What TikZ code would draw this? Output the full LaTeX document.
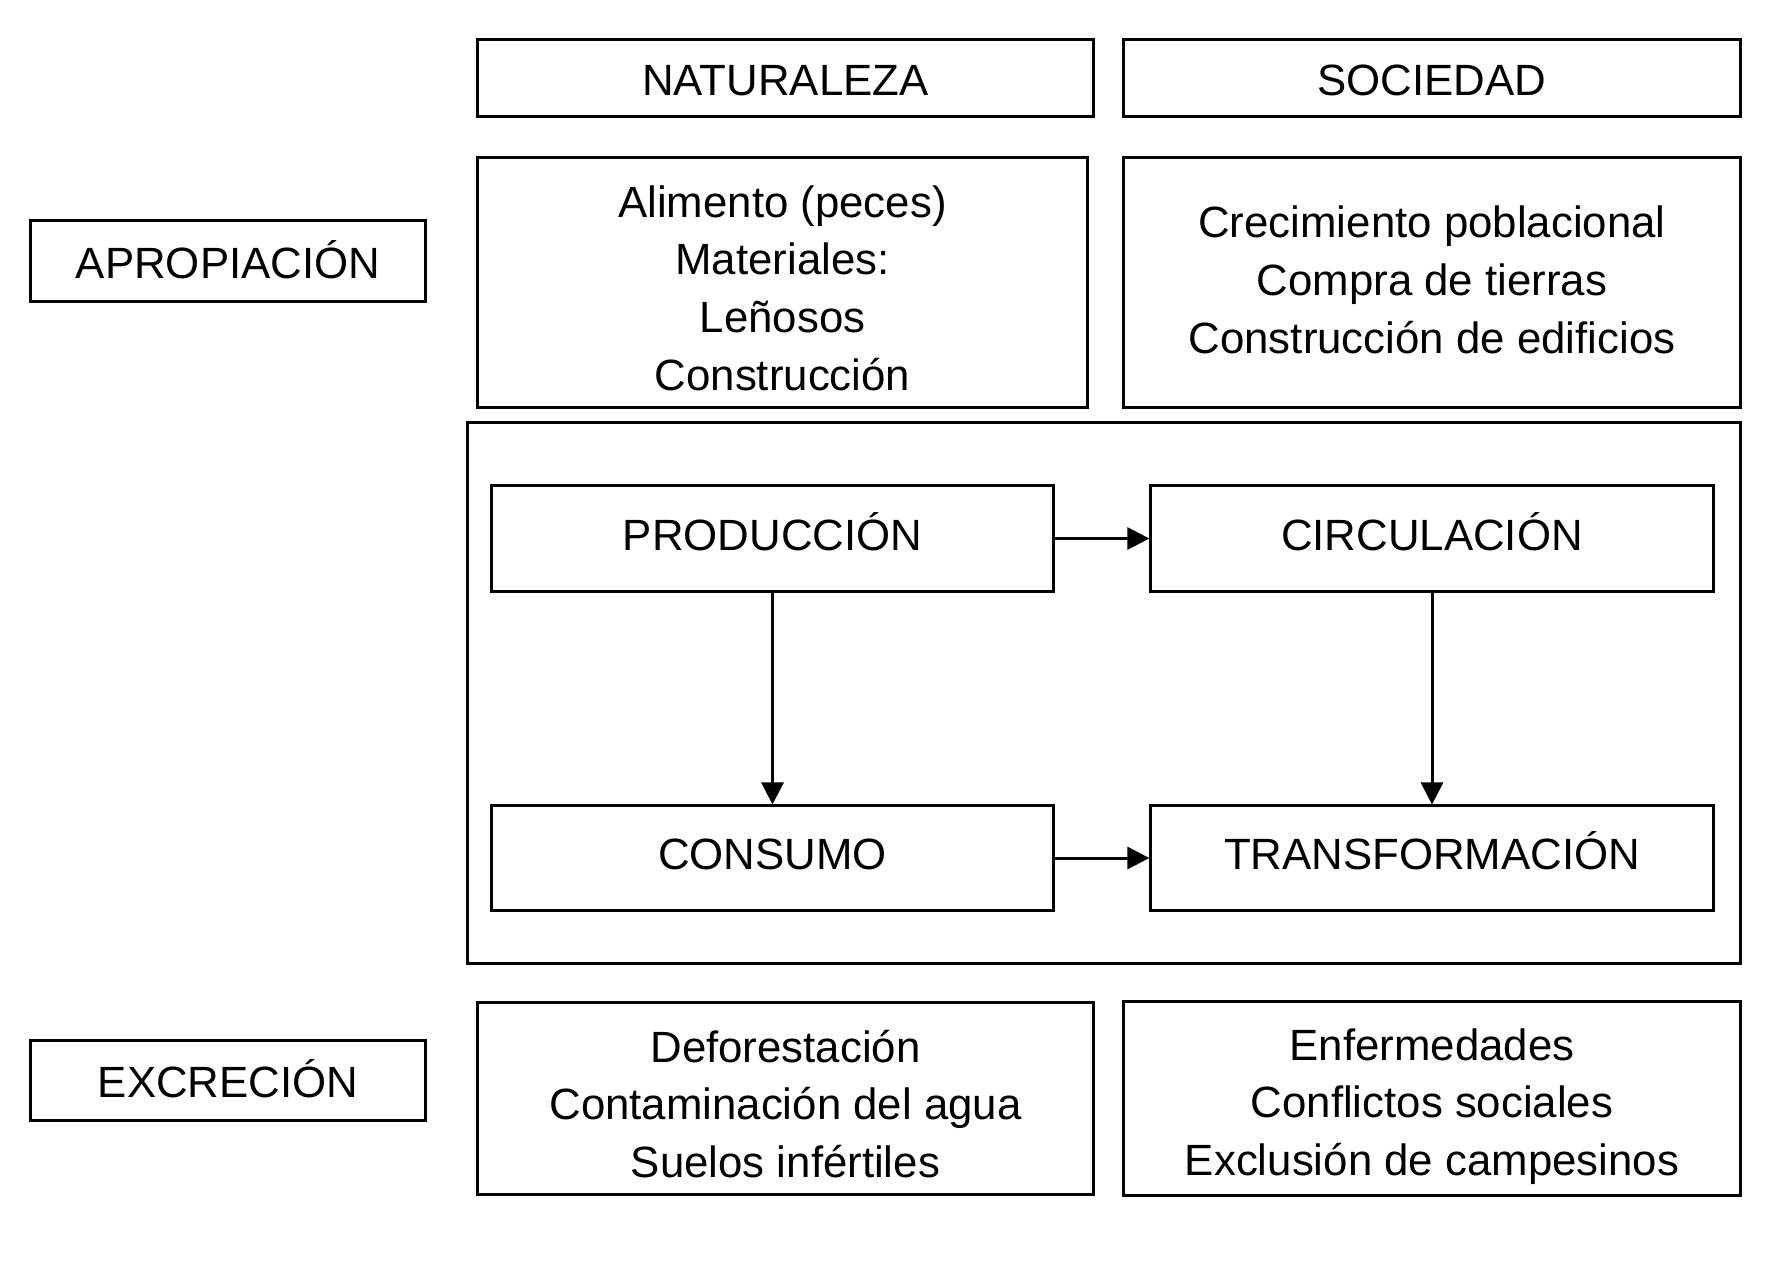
\documentclass[tikz,border=0pt]{standalone}
\usepackage{fontspec}
\setmainfont{Liberation Sans}
\usetikzlibrary{arrows.meta}
\usetikzlibrary{positioning}
\tikzset{>=latex}
\tikzset{caja/.style = {rectangle, draw=black, line width=0.85pt, inner sep=0pt, align=center,
  font=\fontsize{12.45}{16.4}\selectfont, text height=9.9pt, text depth=0pt}}
\tikzset{interna/.style = {caja, text depth=3.3pt}}
\tikzset{texto/.style = {inner sep=0pt, align=center, font=\fontsize{12.45}{16.4}\selectfont}}
\tikzset{flecha/.style = {-{Triangle[length=2.2mm, width=2.2mm]}, line width=0.85pt, draw=black}}

\begin{document}
\begin{tikzpicture}[x=0.01cm, y=-0.01cm]
 \useasboundingbox (0, 0) rectangle (1772, 1269);
 \node [caja, minimum width=6.15cm, minimum height=0.76cm] (NAT) at (785.5, 78) {NATURALEZA};
 \node [caja, minimum width=6.16cm, minimum height=0.76cm] (SOC) at (1432, 78) {SOCIEDAD};
 \node [caja, minimum width=3.94cm, minimum height=0.80cm] (APR) at (228, 261) {APROPIACIÓN};
 \node [caja, minimum width=6.09cm, minimum height=2.49cm] (NA) at (782.5, 282.5) {};
 \node [texto] (NAtxt) at (782.5, 288) {Alimento (peces)\\Materiales:\\Leñosos\\Construcción};
 \node [caja, minimum width=6.16cm, minimum height=2.49cm] (SA) at (1432, 282.5) {};
 \node [texto] (SAtxt) at (1432, 280) {Crecimiento poblacional\\Compra de tierras\\Construcción de edificios};
 \node [caja, minimum width=12.72cm, minimum height=5.40cm] (MARCO) at (1104, 693) {};
 \node [interna, minimum width=5.61cm, minimum height=1.05cm] (PRO) at (772.5, 538.5) {PRODUCCIÓN};
 \node [interna, minimum width=5.62cm, minimum height=1.05cm] (CIR) at (1432, 538.5) {CIRCULACIÓN};
 \node [interna, minimum width=5.61cm, minimum height=1.04cm] (CON) at (772.5, 858) {CONSUMO};
 \node [interna, minimum width=5.62cm, minimum height=1.04cm] (TRA) at (1432, 858) {TRANSFORMACIÓN};
 \node [caja, minimum width=3.94cm, minimum height=0.79cm] (EXC) at (228, 1080.5) {EXCRECIÓN};
 \node [caja, minimum width=6.15cm, minimum height=1.91cm] (NE) at (785.5, 1098.5) {};
 \node [texto] (NEtxt) at (785.5, 1104) {Deforestación\\Contaminación del agua\\Suelos infértiles};
 \node [caja, minimum width=6.16cm, minimum height=1.93cm] (SE) at (1432, 1098.5) {};
 \node [texto] (SEtxt) at (1432, 1106.5) {Enfermedades\\Conflictos sociales\\Exclusión de campesinos};
 \draw [flecha] (PRO) to (CIR);
 \draw [flecha] (CON) to (TRA);
 \draw [flecha] (PRO) to (CON);
 \draw [flecha] (CIR) to (TRA);
\end{tikzpicture}
\end{document}
